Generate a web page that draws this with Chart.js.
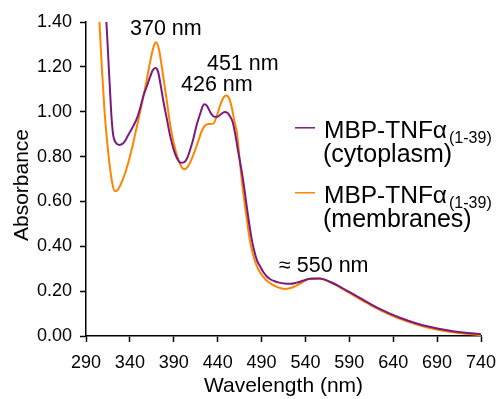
<!DOCTYPE html>
<html>
<head>
<meta charset="utf-8">
<script src="https://cdn.jsdelivr.net/npm/chart.js@4.4.1/dist/chart.umd.min.js"></script>
<style>
    html, body { margin: 0; padding: 0; background: #fff; }
    #wrap { width: 500px; height: 399px; }
</style>
</head>
<body>
<div id="wrap"><canvas id="spectrum" width="500" height="399"></canvas></div>
<script>
// cytoplasm sample (purple)
const cytoWavelength = [311, 313, 315, 317, 319, 321, 324, 328, 332, 335, 338, 343, 348, 352, 355, 359, 363, 366, 369, 372, 375, 378, 382, 386, 390, 394, 398, 402, 406, 409, 412, 416, 420, 423, 425, 428, 432, 436, 440, 444, 448, 451, 454, 457, 460, 463, 466, 469, 472, 475, 478, 481, 485, 488, 492, 496, 500, 505, 510, 516, 523, 530, 537, 545, 556, 568, 580, 591, 605, 620, 635, 650, 665, 680, 695, 710, 725, 740];
const cytoAbsorbance = [1.56, 1.42, 1.27, 1.12, 0.98, 0.895, 0.862, 0.852, 0.858, 0.873, 0.895, 0.93, 0.97, 1.02, 1.066, 1.11, 1.155, 1.185, 1.195, 1.18, 1.12, 1.05, 0.97, 0.89, 0.83, 0.79, 0.772, 0.775, 0.80, 0.835, 0.875, 0.94, 0.99, 1.025, 1.033, 1.025, 0.995, 0.978, 0.978, 0.99, 0.999, 0.995, 0.98, 0.955, 0.90, 0.83, 0.765, 0.695, 0.61, 0.525, 0.45, 0.39, 0.335, 0.313, 0.285, 0.265, 0.253, 0.244, 0.238, 0.234, 0.233, 0.238, 0.246, 0.255, 0.256, 0.242, 0.218, 0.194, 0.163, 0.13, 0.102, 0.078, 0.058, 0.042, 0.03, 0.02, 0.013, 0.008];

// membrane sample (orange)
const membWavelength = [302, 305, 308, 311, 314, 317, 320, 323, 326, 330, 334, 338, 342, 346, 350, 355, 360, 364, 367, 370, 373, 376, 379, 382, 386, 390, 394, 398, 402, 406, 410, 414, 418, 422, 426, 430, 435, 439, 443, 447, 450, 453, 456, 459, 462, 465, 468, 471, 475, 478, 482, 486, 490, 495, 500, 508, 517, 525, 534, 545, 556, 568, 580, 591, 605, 620, 635, 650, 665, 680, 695, 710, 725, 740];
const membAbsorbance = [1.62, 1.42, 1.20, 1.01, 0.87, 0.76, 0.68, 0.645, 0.65, 0.68, 0.72, 0.77, 0.83, 0.90, 0.97, 1.06, 1.16, 1.24, 1.29, 1.31, 1.28, 1.21, 1.13, 1.05, 0.94, 0.86, 0.80, 0.76, 0.743, 0.755, 0.785, 0.825, 0.87, 0.915, 0.94, 0.945, 0.947, 0.98, 1.03, 1.065, 1.072, 1.06, 1.02, 0.96, 0.905, 0.79, 0.675, 0.585, 0.47, 0.40, 0.34, 0.30, 0.274, 0.25, 0.235, 0.218, 0.21, 0.216, 0.234, 0.255, 0.256, 0.24, 0.215, 0.19, 0.158, 0.125, 0.097, 0.073, 0.053, 0.037, 0.025, 0.016, 0.009, 0.004];

const peakLabels = ["370 nm", "451 nm", "426 nm", "\u2248 550 nm"];
const seriesNames = ["MBP-TNF\u03b1", "MBP-TNF\u03b1"];
const seriesSub = ["(1-39)", "(1-39)"];
const seriesSecondLine = ["(cytoplasm)", "(membranes)"];

const PURPLE = "#7b1a7d";
const ORANGE = "#ff8400";
const FONT = "'Liberation Sans', Arial, Helvetica, sans-serif";

function toPoints(xs, ys) {
    return xs.map((x, i) => ({ x: x, y: ys[i] }));
}

// where each peak label sits (data coordinates of the text's left baseline)
const labelAnchors = [
    { x: 340.1, y: 1.341 },
    { x: 427.8, y: 1.185 },
    { x: 398.2, y: 1.093 },
    { x: 509.9, y: 0.286 },
];

const extras = {
    id: "extras",
    afterDraw(chart) {
        const ctx = chart.ctx;
        const xs = chart.scales.x;
        const ys = chart.scales.y;
        ctx.save();
        ctx.fillStyle = "#000";
        ctx.textBaseline = "alphabetic";
        ctx.textAlign = "left";

        // peak labels
        ctx.font = "21.5px " + FONT;
        peakLabels.forEach((t, i) => {
            ctx.fillText(t, xs.getPixelForValue(labelAnchors[i].x), ys.getPixelForValue(labelAnchors[i].y));
        });

        // legend
        const colors = [PURPLE, ORANGE];
        const rows = [138.3, 203.3];
        rows.forEach((base, i) => {
            ctx.strokeStyle = colors[i];
            ctx.lineWidth = 1.5;
            ctx.beginPath();
            ctx.moveTo(295, base - 10.5);
            ctx.lineTo(315, base - 10.5);
            ctx.stroke();
            ctx.font = "24.5px " + FONT;
            ctx.fillText(seriesNames[i], 324, base);
            const w = ctx.measureText(seriesNames[i]).width;
            ctx.font = "16px " + FONT;
            ctx.fillText(seriesSub[i], 326 + w, base + 5);
            ctx.font = "25px " + FONT;
            ctx.fillText(seriesSecondLine[i], 323, base + 23.4);
        });

        // axis titles
        ctx.font = "21px " + FONT;
        ctx.textAlign = "center";
        ctx.fillText("Wavelength (nm)", (chart.chartArea.left + chart.chartArea.right) / 2, 392);
        ctx.translate(28, 185);
        ctx.rotate(-Math.PI / 2);
        ctx.fillText("Absorbance", 0, 0);
        ctx.restore();
    },
};

new Chart(document.getElementById("spectrum").getContext("2d"), {
    type: "line",
    data: {
        datasets: [
            {
                label: "cytoplasm",
                data: toPoints(cytoWavelength, cytoAbsorbance),
                borderColor: PURPLE,
                borderWidth: 2,
                pointRadius: 0,
                fill: false,
                cubicInterpolationMode: "monotone",
            },
            {
                label: "membranes",
                data: toPoints(membWavelength, membAbsorbance),
                borderColor: ORANGE,
                borderWidth: 2,
                pointRadius: 0,
                fill: false,
                cubicInterpolationMode: "monotone",
            },
        ],
    },
    options: {
        responsive: false,
        animation: false,
        events: [],
        layout: { padding: { top: 22, right: 19, left: 0, bottom: 0 } },
        plugins: {
            legend: { display: false },
            tooltip: { enabled: false },
        },
        scales: {
            x: {
                type: "linear",
                min: 290,
                max: 740,
                afterFit: (s) => {
                    s.height = 63;
                    s.paddingLeft = 0;
                    s.paddingRight = 0;
                },
                ticks: {
                    stepSize: 50,
                    color: "#000",
                    font: { size: 18, family: FONT },
                    padding: 10,
                    maxRotation: 0,
                },
                grid: { drawOnChartArea: false, drawTicks: true, tickLength: 6, color: "#000", tickWidth: 1.5 },
                border: { display: true, color: "#000", width: 1.5 },
            },
            y: {
                min: 0,
                max: 1.4,
                afterFit: (s) => {
                    s.width = 86;
                    s.paddingTop = 0;
                    s.paddingBottom = 0;
                },
                ticks: {
                    stepSize: 0.2,
                    color: "#000",
                    font: { size: 18, family: FONT },
                    padding: 8,
                    callback: (v) => v.toFixed(2),
                },
                grid: { drawOnChartArea: false, drawTicks: true, tickLength: 6, color: "#000", tickWidth: 1.5 },
                border: { display: true, color: "#000", width: 1.5 },
            },
        },
    },
    plugins: [extras],
});
</script>
</body>
</html>
